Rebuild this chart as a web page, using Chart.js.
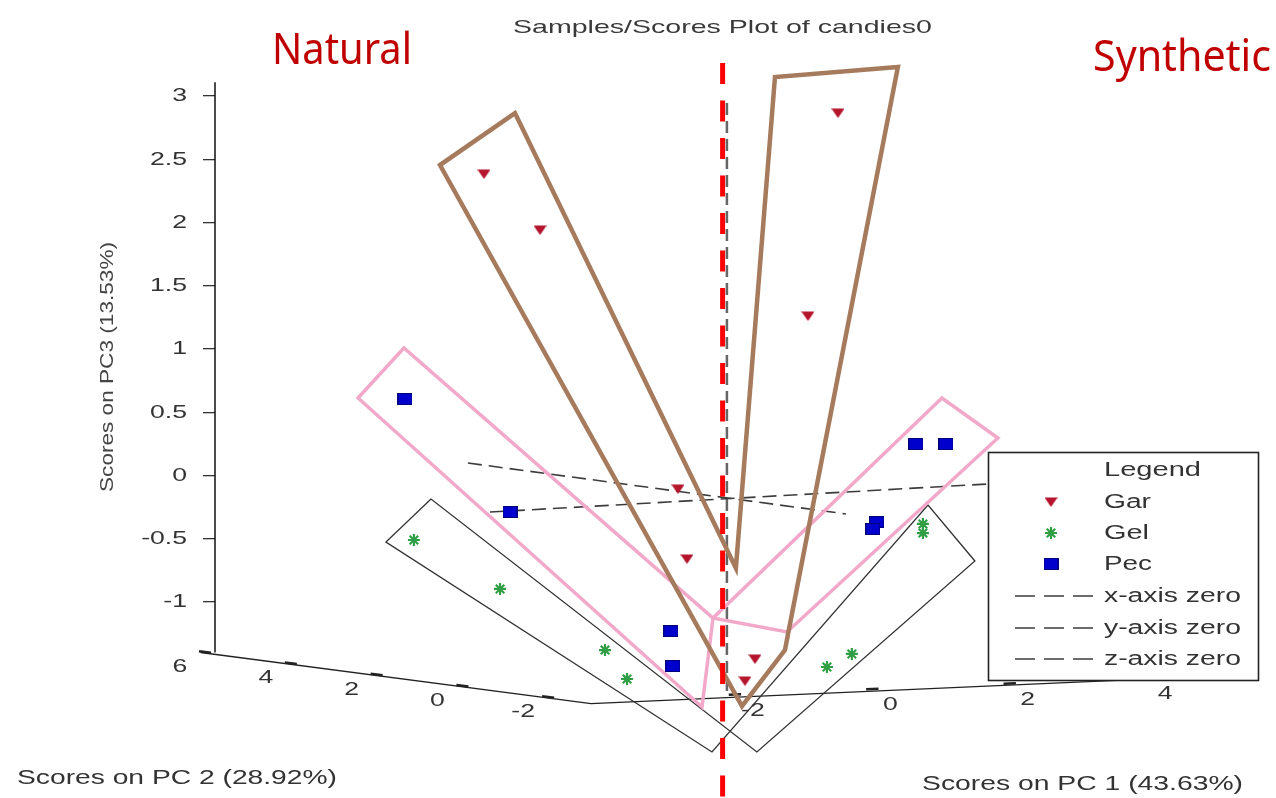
<!DOCTYPE html>
<html>
<head>
<meta charset="utf-8">
<title>Samples/Scores Plot of candies0</title>
<script src="https://cdn.jsdelivr.net/npm/chart.js@4.4.1/dist/chart.umd.min.js"></script>
<style>
  html, body { margin: 0; padding: 0; background: #fff; }
  canvas { display: block; }
</style>
</head>
<body>
<canvas id="scores" width="1276" height="798"></canvas>
<script>
// ---- scores: x = horizontal position in the projected view, y = score on PC3 ----
const garX = [-1.873, -1.430, 0.926, 0.689, -0.339, -0.268, 0.270, 0.191];
const garY = [2.384, 1.941, 2.866, 1.261, -0.107, -0.660, -1.451, -1.625];
const gelX = [-2.427, -1.746, -0.916, -0.742, 0.839, 1.036, 1.598, 1.598];
const gelY = [-0.510, -0.897, -1.380, -1.609, -1.514, -1.411, -0.383, -0.455];
const pecX = [-2.498, -1.667, -0.395, -0.379, 1.543, 1.780, 1.234, 1.202];
const pecY = [0.605, -0.289, -1.230, -1.506, 0.249, 0.249, -0.368, -0.423];

// ---- group outlines, same projected units ----
const garHullX = [-2.221, -1.628, 0.119, 0.428, 1.400, 0.507, 0.167];
const garHullY = [2.455, 2.866, -0.731, 3.151, 3.230, -1.380, -1.823];
const pecHullX = [-2.869, -2.506, -0.062, 1.748, 2.191, 0.523, -0.062, -0.149];
const pecHullY = [0.613, 1.008, -1.127, 0.613, 0.297, -1.237, -1.127, -1.830];
const gelHullX = [-2.648, -2.292, 0.285, 2.009, 1.638, -0.070];
const gelHullY = [-0.526, -0.186, -2.186, -0.676, -0.233, -2.186];

// ---- zero lines of the three score axes ----
const xZeroX = [-1.826, 2.112], xZeroY = [-0.289, -0.067];
const yZeroX = [-2.000, 0.989], yZeroY = [0.099, -0.304];
const zZeroX = [0.048, 0.048], zZeroY = [2.945, -1.751];

// ---- natural / synthetic divider ----
const dividerX = [0.014, 0.014], dividerY = [3.262, -2.55];

// ---- axes ----
const pc3Ticks = [3, 2.5, 2, 1.5, 1, 0.5, 0, -0.5, -1];
const pc3Span = [3.11, -1.40];
const pc2Ticks = [6, 4, 2, 0, -2];
const pc1Ticks = [-2, 0, 2, 4];

const groupNames = ['Gar', 'Gel', 'Pec'];
const zeroNames = ['x-axis zero', 'y-axis zero', 'z-axis zero'];

const COLORS = { gar: '#b4142c', gel: '#2f9e44', pec: '#0000cd', garHull: '#a67a5c', pecHull: '#f2a9c9', gelHull: '#333333' };

// floor axes of the 3-D view, expressed in projected units
function pc2Point(v) { return { x: -4.079 + (6 - v) * 0.3392, y: -1.4035 - (6 - v) * 0.0445 }; }
function pc1Point(v) { return { x: 0.1115 + (v + 2) * 0.5432, y: -1.7396 + (v + 2) * 0.02174 }; }

function pts(xs, ys) { return xs.map((x, i) => ({ x, y: ys[i] })); }
function loop(xs, ys) { const p = pts(xs, ys); return p.concat([p[0], p[1]]); }

// marker images
function garMarker() {
  const c = document.createElement('canvas'); c.width = 13; c.height = 10;
  const g = c.getContext('2d');
  g.fillStyle = COLORS.gar;
  g.beginPath(); g.moveTo(0, 0.5); g.lineTo(13, 0.5); g.lineTo(6.5, 10); g.closePath(); g.fill();
  return c;
}
function pecMarker() {
  const c = document.createElement('canvas'); c.width = 15; c.height = 12;
  const g = c.getContext('2d');
  g.fillStyle = COLORS.pec; g.fillRect(0, 0, 15, 12);
  g.strokeStyle = '#00007a'; g.lineWidth = 1; g.strokeRect(0.5, 0.5, 14, 11);
  return c;
}
const garImg = garMarker();
const pecImg = pecMarker();

function drawAsterisk(ctx, x, y, r, color) {
  ctx.save();
  ctx.strokeStyle = color; ctx.lineWidth = 2.2;
  ctx.beginPath();
  for (let k = 0; k < 4; k++) {
    const a = k * Math.PI / 4;
    ctx.moveTo(x - Math.cos(a) * r, y - Math.sin(a) * r);
    ctx.lineTo(x + Math.cos(a) * r, y + Math.sin(a) * r);
  }
  ctx.stroke();
  ctx.restore();
}

function text(ctx, str, x, y, o) {
  ctx.save();
  ctx.font = o.font || '19px "Liberation Sans"';
  ctx.fillStyle = o.color || '#333';
  ctx.textBaseline = o.baseline || 'middle';
  ctx.textAlign = o.align || 'left';
  const w = ctx.measureText(str).width;
  const sx = o.width ? o.width / w : (o.sx || 1);
  ctx.translate(x, y);
  if (o.rotate) ctx.rotate(o.rotate);
  ctx.scale(sx, 1);
  ctx.fillText(str, 0, 0);
  ctx.restore();
}

const lineSet = (data, color, width, extra) => Object.assign({
  data, showLine: true, borderColor: color, borderWidth: width, pointRadius: 0,
  fill: false, tension: 0, clip: false, borderJoinStyle: 'miter'
}, extra || {});

const frame = {
  id: 'frame',
  beforeDraw(chart) {
    const ctx = chart.ctx;
    ctx.save(); ctx.fillStyle = '#fff'; ctx.fillRect(0, 0, chart.width, chart.height); ctx.restore();
  },
  beforeDatasetsDraw(chart) {
    const ctx = chart.ctx, xs = chart.scales.x, ys = chart.scales.y;
    const P = p => [xs.getPixelForValue(p.x), ys.getPixelForValue(p.y)];
    ctx.save();
    ctx.strokeStyle = '#222'; ctx.lineWidth = 1.4;
    ctx.beginPath();
    const line = [pc2Point(6.1), pc2Point(-3), pc1Point(4.05)].map(P);
    ctx.moveTo(line[0][0], line[0][1]);
    line.slice(1).forEach(q => ctx.lineTo(q[0], q[1]));
    ctx.stroke();
    // tick marks
    ctx.lineWidth = 2.6;
    pc2Ticks.forEach(v => {
      const a = P(pc2Point(v + 0.14)), b = P(pc2Point(v - 0.14));
      ctx.beginPath(); ctx.moveTo(a[0], a[1] - 1); ctx.lineTo(b[0], b[1] - 1); ctx.stroke();
    });
    pc1Ticks.forEach(v => {
      const a = P(pc1Point(v - 0.09)), b = P(pc1Point(v + 0.09));
      ctx.beginPath(); ctx.moveTo(a[0], a[1] - 1); ctx.lineTo(b[0], b[1] - 1); ctx.stroke();
    });
    ctx.restore();
    // tick labels
    pc2Ticks.forEach(v => {
      const p = P(pc2Point(v));
      text(ctx, String(v), p[0] - 25, p[1] + 14, { align: 'center', sx: 1.4 });
    });
    pc1Ticks.forEach(v => {
      const p = P(pc1Point(v));
      text(ctx, String(v), p[0] + 18, p[1] + 15, { align: 'center', sx: 1.4 });
    });
    // PC3 tick labels
    ys.ticks.forEach(t => {
      text(ctx, String(t.value), 187, ys.getPixelForValue(t.value), { align: 'right', sx: 1.4 });
    });
  },
  afterDraw(chart) {
    const ctx = chart.ctx;
    // titles
    text(ctx, 'Samples/Scores Plot of candies0', 722.5, 28, { align: 'center', width: 419, font: '19px "Liberation Sans"', color: '#3a3a3a' });
    text(ctx, 'Natural', 272, 64, { baseline: 'alphabetic', width: 140, font: '43px "Noto Sans"', color: '#c00000' });
    text(ctx, 'Synthetic', 1093, 71, { baseline: 'alphabetic', width: 178, font: '43px "Noto Sans"', color: '#c00000' });
    text(ctx, 'Scores on PC3 (13.53%)', 108, 367, { align: 'center', width: 250, rotate: -Math.PI / 2, color: '#444' });
    text(ctx, 'Scores on PC 2 (28.92%)', 17, 778, { width: 320, font: '20px "Liberation Sans"', color: '#333' });
    text(ctx, 'Scores on PC 1 (43.63%)', 922, 784, { width: 321, font: '20px "Liberation Sans"', color: '#333' });

    // legend
    ctx.save();
    ctx.fillStyle = '#fff'; ctx.fillRect(988, 452, 270, 228);
    ctx.strokeStyle = '#222'; ctx.lineWidth = 1.6; ctx.strokeRect(988.5, 452.5, 270, 228);
    ctx.restore();
    const lf = '20px "Liberation Sans"';
    text(ctx, 'Legend', 1104, 470, { width: 97, font: lf });
    const rows = [502, 533, 564];
    const widths = [47, 45, 48];
    ctx.drawImage(garImg, 1051 - garImg.width / 2, rows[0] - garImg.height / 2);
    drawAsterisk(ctx, 1051, rows[1], 6, COLORS.gel);
    ctx.drawImage(pecImg, 1051 - pecImg.width / 2, rows[2] - pecImg.height / 2);
    groupNames.forEach((n, i) => text(ctx, n, 1104, rows[i], { width: widths[i], font: lf }));
    const zrows = [596, 628, 659];
    zeroNames.forEach((n, i) => {
      ctx.save();
      ctx.strokeStyle = '#3c3c3c'; ctx.lineWidth = 1.6; ctx.setLineDash([20, 9]);
      ctx.beginPath(); ctx.moveTo(1015, zrows[i]); ctx.lineTo(1095, zrows[i]); ctx.stroke();
      ctx.restore();
      text(ctx, n, 1104, zrows[i], { width: 137, font: lf });
    });
  }
};

new Chart(document.getElementById('scores'), {
  type: 'scatter',
  data: {
    datasets: [
      lineSet(pts(dividerX, dividerY), '#ff0000', 5, { borderDash: [21, 16.5], borderCapStyle: 'butt' }),
      { label: groupNames[0], data: pts(garX, garY), pointStyle: garImg, pointRadius: 6, clip: false },
      { label: groupNames[1], data: pts(gelX, gelY), pointStyle: 'star', pointRadius: 6, borderWidth: 2.2,
        borderColor: COLORS.gel, backgroundColor: COLORS.gel, clip: false },
      { label: groupNames[2], data: pts(pecX, pecY), pointStyle: pecImg, pointRadius: 6, clip: false },
      lineSet(loop(garHullX, garHullY), COLORS.garHull, 4.5),
      lineSet(loop(pecHullX, pecHullY), COLORS.pecHull, 3.5),
      lineSet(loop(gelHullX, gelHullY), COLORS.gelHull, 1.3),
      lineSet(pts(xZeroX, xZeroY), '#3c3c3c', 1.6, { borderDash: [14, 7] }),
      lineSet(pts(yZeroX, yZeroY), '#3c3c3c', 1.6, { borderDash: [14, 7] }),
      lineSet(pts(zZeroX, zZeroY), '#666666', 2.5, { borderDash: [12, 6] }),
      lineSet([{ x: -4.0, y: pc3Span[0] }, { x: -4.0, y: pc3Span[1] }], '#111', 1.5)
    ]
  },
  options: {
    responsive: false,
    animation: false,
    devicePixelRatio: 1,
    events: [],
    layout: { padding: 0, autoPadding: false },
    plugins: { legend: { display: false }, tooltip: { enabled: false } },
    scales: {
      x: { type: 'linear', min: -4.0, max: 4.39, display: false },
      y: {
        type: 'linear', position: 'left', min: -2.55, max: 3.76, bounds: 'data',
        border: { display: false },
        grid: { drawOnChartArea: false, drawTicks: true, tickLength: 12, color: '#333', lineWidth: 1.3 },
        ticks: { color: 'rgba(0,0,0,0)', padding: 17, font: { family: 'Liberation Sans', size: 18 },
                 callback: v => String(v) },
        afterBuildTicks: s => { s.ticks = pc3Ticks.map(v => ({ value: v })); },
        afterFit: s => { s.width = 215; s.paddingTop = 0; s.paddingBottom = 0; }
      }
    }
  },
  plugins: [frame]
});
</script>
</body>
</html>
